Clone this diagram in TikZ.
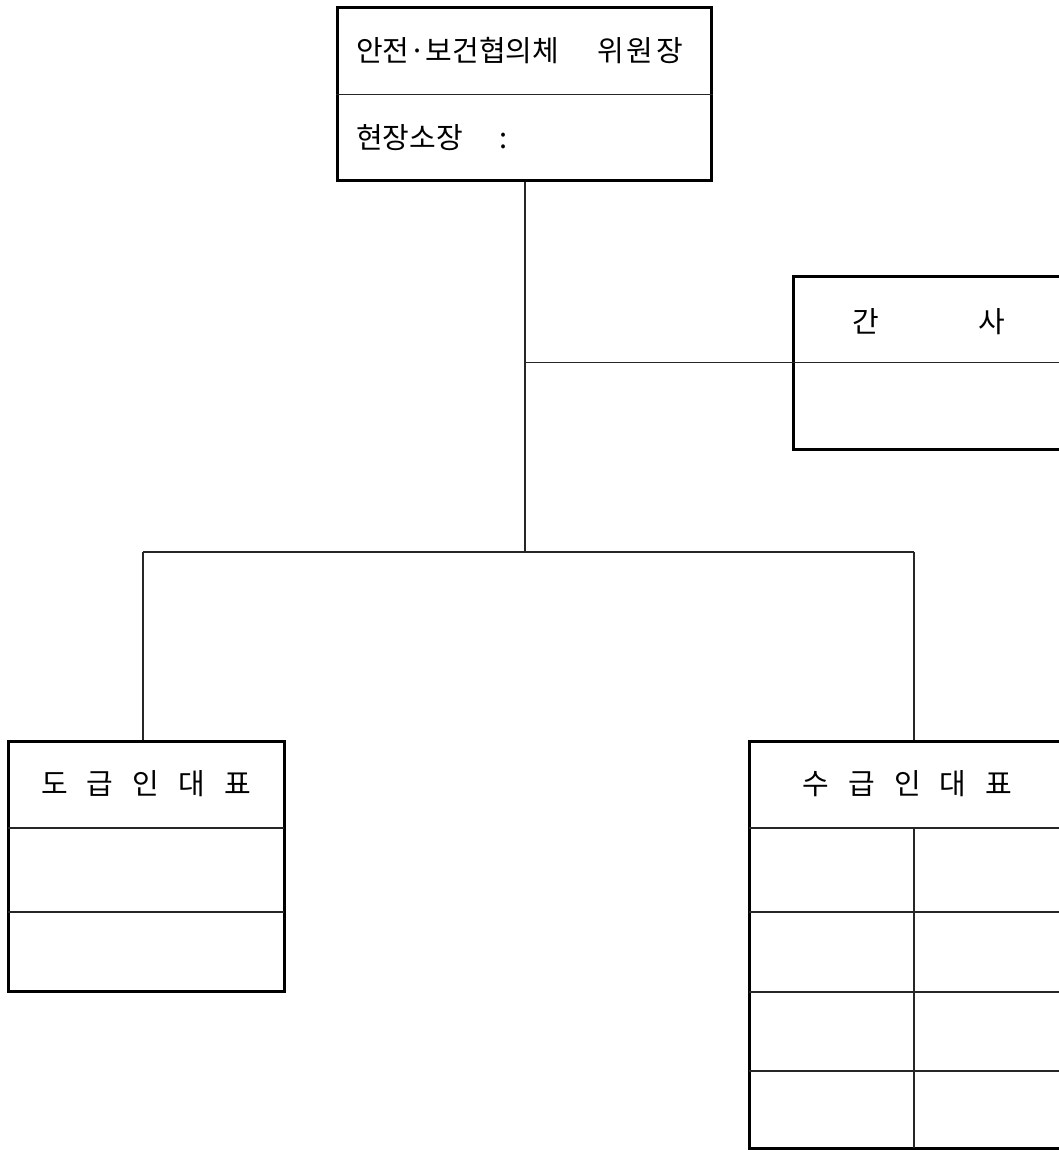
\documentclass[tikz,border=0pt]{standalone}
\usepackage{fontspec}
\setmainfont{Noto Sans CJK KR}
\newcommand{\krtext}{\fontsize{29}{31}\selectfont}
\begin{document}
\begin{tikzpicture}[x=1pt, y=-1pt,
  box/.style={draw=black, line width=3pt, rectangle, inner sep=0pt},
  rule/.style={line width=1.3pt, draw=black!85},
  link/.style={line width=1.3pt, draw=black!85},
  lbl/.style={inner sep=0pt, font=\krtext}]
\useasboundingbox (0,0) rectangle (1059,1150);

% committee chair
\node[box, minimum width=374pt, minimum height=173pt] (chair) at (524,94.5) {};
\draw[rule] (chair.west) -- (chair.east);
\node[lbl, anchor=west] (chairtitle) at (356,51) {안전·보건협의체\hspace{38pt}위\hspace{3pt}원\hspace{3pt}장};
\node[lbl, anchor=west] (sitechief) at (356,138) {현장소장\hspace{37pt}:};

% secretary
\node[box, minimum width=271pt, minimum height=173pt] (secretary) at (928.5,362.5) {};
\draw[rule] (secretary.west) -- (secretary.east);
\node[lbl] (secretarytitle) at (928.5,322) {간\hspace{99pt}사};

% contractor side
\node[box, minimum width=276pt, minimum height=250pt] (contractor) at (146,866) {};
\draw[rule] (8,828) -- (284,828);
\draw[rule] (8,912) -- (284,912);
\node[lbl] (contractortitle) at (146,784) {{\spaceskip=19pt 도 급 인 대 표}};

% subcontractor side
\node[box, minimum width=317pt, minimum height=407pt] (subcontractor) at (907.5,944.5) {};
\foreach \y in {828,912,992,1071}
  \draw[rule] (749,\y) -- (1066,\y);
\draw[rule] (914,828) -- (914,1148);
\node[lbl] (subcontractortitle) at (907.5,784) {{\spaceskip=19pt 수 급 인 대 표}};

% connectors
\coordinate (junction) at (525,552);
\coordinate (leftdrop) at (143,552);
\coordinate (rightdrop) at (914,552);
\draw[link] (chair.south -| junction) -- (junction);
\draw[link] (junction |- secretary.west) -- (secretary.west);
\draw[link] (leftdrop) -- (rightdrop);
\draw[link] (leftdrop) -- (leftdrop |- contractor.north);
\draw[link] (rightdrop) -- (rightdrop |- subcontractor.north);
\end{tikzpicture}
\end{document}
